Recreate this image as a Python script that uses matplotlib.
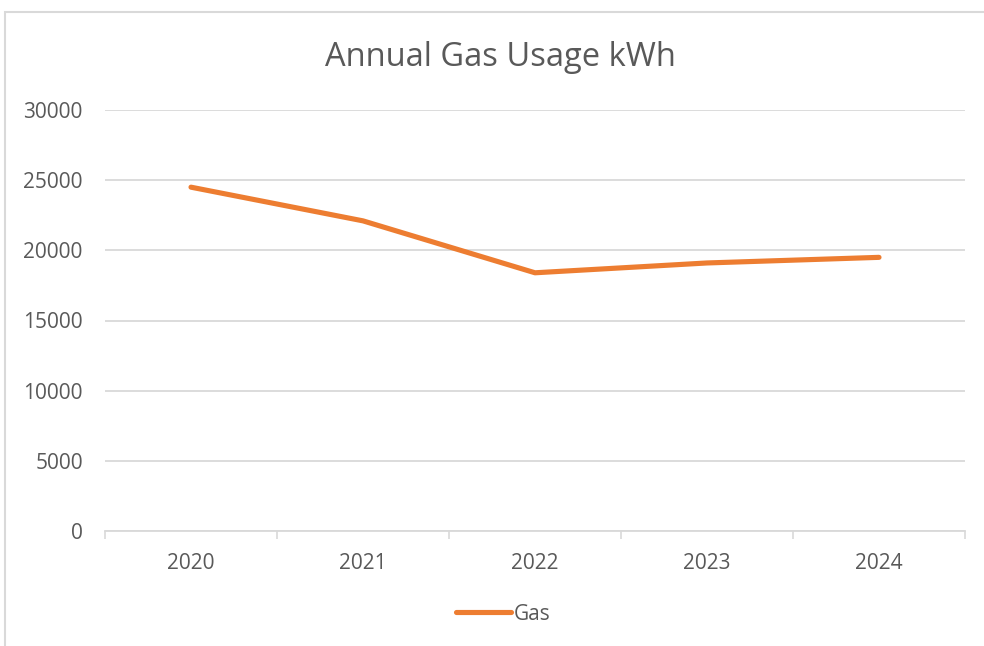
import matplotlib
matplotlib.use('Agg')
import matplotlib.pyplot as plt
from matplotlib.patches import Rectangle

plt.rcParams['font.family'] = ['Open Sans', 'DejaVu Sans']

# data
years = ['2020', '2021', '2022', '2023', '2024']
gas_kwh = [24500, 22100, 18400, 19100, 19500]
y_ticks = [0, 5000, 10000, 15000, 20000, 25000, 30000]

text_col = '#595959'
grid_col = '#d9d9d9'
line_col = '#ED7D31'

fig = plt.figure(figsize=(9.84, 6.46), dpi=100)
ax = fig.add_axes([105/984, 1 - 531/646, 860/984, 421/646])

x = range(len(years))
ax.plot(x, gas_kwh, color=line_col, lw=3.7, solid_capstyle='round',
        solid_joinstyle='round', label='Gas')

ax.set_xlim(-0.5, len(years) - 0.5)
ax.set_ylim(0, 30000)
ax.set_yticks(y_ticks)
ax.set_yticklabels([str(v) for v in y_ticks])
ax.yaxis.grid(True, color=grid_col, lw=1.3)
ax.set_axisbelow(True)

# category ticks sit between the labels, like excel
ax.set_xticks([i - 0.5 for i in range(len(years) + 1)], minor=False)
ax.set_xticklabels([''] * (len(years) + 1))
ax.set_xticks(list(x), minor=True)
ax.set_xticklabels(years, minor=True)
ax.tick_params(axis='x', which='major', length=6, width=1.2, color=grid_col, direction='out')
ax.tick_params(axis='x', which='minor', length=0, pad=16, labelsize=15, labelcolor=text_col)
ax.tick_params(axis='y', length=0, pad=16, labelsize=15, labelcolor=text_col)

for s in ['top', 'right', 'left']:
    ax.spines[s].set_visible(False)
ax.spines['bottom'].set_color(grid_col)
ax.spines['bottom'].set_linewidth(1.3)

fig.text(500/984, 1 - 57/646, 'Annual Gas Usage kWh', ha='center', va='center',
         fontsize=23.5, color=text_col)

leg = fig.legend(loc='center', bbox_to_anchor=(503/984, 1 - 614/646), frameon=False,
                 fontsize=15, handlelength=2.64, handletextpad=0.15, labelcolor=text_col)

# chart border (cropped at right and bottom in the reference)
fig.patches.append(Rectangle((5/984, -0.1), 1.2, 1 - 12/646 + 0.1, transform=fig.transFigure,
                             fill=False, edgecolor=grid_col, lw=1.5))

fig.savefig('out.png', dpi=100)
